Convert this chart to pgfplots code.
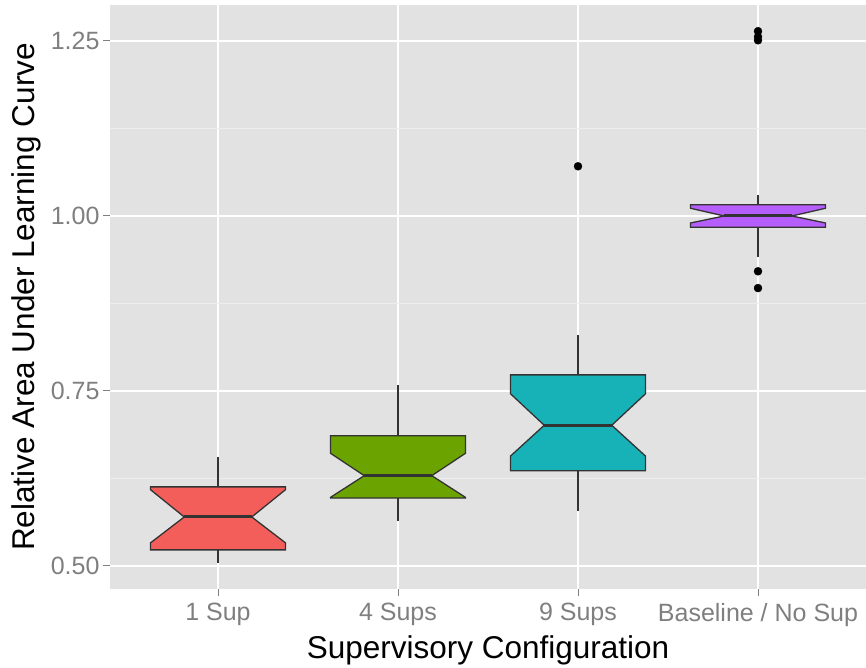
\documentclass[border=0pt]{standalone}
\usepackage{fontspec}
\setmainfont{Liberation Sans}
\usepackage{pgfplots}
\pgfplotsset{compat=1.18}
\definecolor{panelbg}{HTML}{E2E2E2}
\definecolor{minorg}{HTML}{EEEEEE}
\definecolor{tickgrey}{HTML}{7F7F7F}
\definecolor{boxline}{HTML}{333333}
\definecolor{cA}{HTML}{F35E5A}
\definecolor{cB}{HTML}{6BA300}
\definecolor{cC}{HTML}{17B2B7}
\definecolor{cD}{HTML}{B65EFB}
\begin{document}
\begin{tikzpicture}
\useasboundingbox (-110pt,-78.5pt) rectangle (756pt,588.5pt);
\begin{axis}[
  at={(0pt,0pt)}, anchor=south west,
  scale only axis, width=756pt, height=583pt,
  xmin=0.4, xmax=4.6, ymin=0.4678, ymax=1.3007,
  axis background/.style={fill=panelbg},
  axis line style={draw=none},
  xtick={1,2,3,4},
  xticklabels={1 Sup,4 Sups,9 Sups,Baseline / No Sup},
  ytick={0.5,0.75,1,1.25},
  yticklabels={0.50,0.75,1.00,1.25},
  minor ytick={0.625,0.875,1.125},
  grid=both,
  major grid style={white, line width=2pt},
  minor grid style={minorg, line width=1pt},
  tick align=outside, major tick length=7pt, minor tick length=0pt,
  tick pos=left,
  tick style={color=tickgrey, line width=1pt},
  ticklabel style={font=\fontsize{25}{25}\selectfont, text=tickgrey},
  xticklabel style={yshift=-4pt},
  xlabel={Supervisory Configuration},
  ylabel={Relative Area Under Learning Curve},
  label style={font=\fontsize{31.5}{31.5}\selectfont},
  xlabel style={yshift=-2pt},
  ylabel style={yshift=3pt},
  clip=false,
]
% Box 1: 1 Sup
\addplot[boxline, line width=1.3pt] coordinates {(1,0.504) (1,0.523)};
\addplot[boxline, line width=1.3pt] coordinates {(1,0.613) (1,0.656)};
\addplot[fill=cA, draw=boxline, line width=1.3pt] coordinates {
 (0.625,0.613) (0.625,0.609) (0.8125,0.570) (0.625,0.533) (0.625,0.523)
 (1.375,0.523) (1.375,0.533) (1.1875,0.570) (1.375,0.609) (1.375,0.613)} -- cycle;
\addplot[boxline, line width=3pt] coordinates {(0.8125,0.570) (1.1875,0.570)};
% Box 2: 4 Sups
\addplot[boxline, line width=1.3pt] coordinates {(2,0.564) (2,0.597)};
\addplot[boxline, line width=1.3pt] coordinates {(2,0.686) (2,0.759)};
\addplot[fill=cB, draw=boxline, line width=1.3pt] coordinates {
 (1.625,0.686) (1.625,0.661) (1.8125,0.629) (1.625,0.598) (1.625,0.597)
 (2.375,0.597) (2.375,0.598) (2.1875,0.629) (2.375,0.661) (2.375,0.686)} -- cycle;
\addplot[boxline, line width=3pt] coordinates {(1.8125,0.629) (2.1875,0.629)};
% Box 3: 9 Sups
\addplot[boxline, line width=1.3pt] coordinates {(3,0.579) (3,0.636)};
\addplot[boxline, line width=1.3pt] coordinates {(3,0.773) (3,0.830)};
\addplot[fill=cC, draw=boxline, line width=1.3pt] coordinates {
 (2.625,0.773) (2.625,0.746) (2.8125,0.701) (2.625,0.657) (2.625,0.636)
 (3.375,0.636) (3.375,0.657) (3.1875,0.701) (3.375,0.746) (3.375,0.773)} -- cycle;
\addplot[boxline, line width=3pt] coordinates {(2.8125,0.701) (3.1875,0.701)};
% Box 4: Baseline
\addplot[boxline, line width=1.3pt] coordinates {(4,0.941) (4,0.984)};
\addplot[boxline, line width=1.3pt] coordinates {(4,1.016) (4,1.030)};
\addplot[fill=cD, draw=boxline, line width=1.3pt] coordinates {
 (3.625,1.016) (3.625,1.011) (3.8125,1.000) (3.625,0.990) (3.625,0.984)
 (4.375,0.984) (4.375,0.990) (4.1875,1.000) (4.375,1.011) (4.375,1.016)} -- cycle;
\addplot[boxline, line width=3pt] coordinates {(3.8125,1.000) (4.1875,1.000)};
% Outliers
\addplot[only marks, mark=*, mark size=4pt, black] coordinates {
 (3,1.071) (4,1.264) (4,1.256) (4,1.251) (4,0.921) (4,0.897)};
\end{axis}
\end{tikzpicture}
\end{document}
